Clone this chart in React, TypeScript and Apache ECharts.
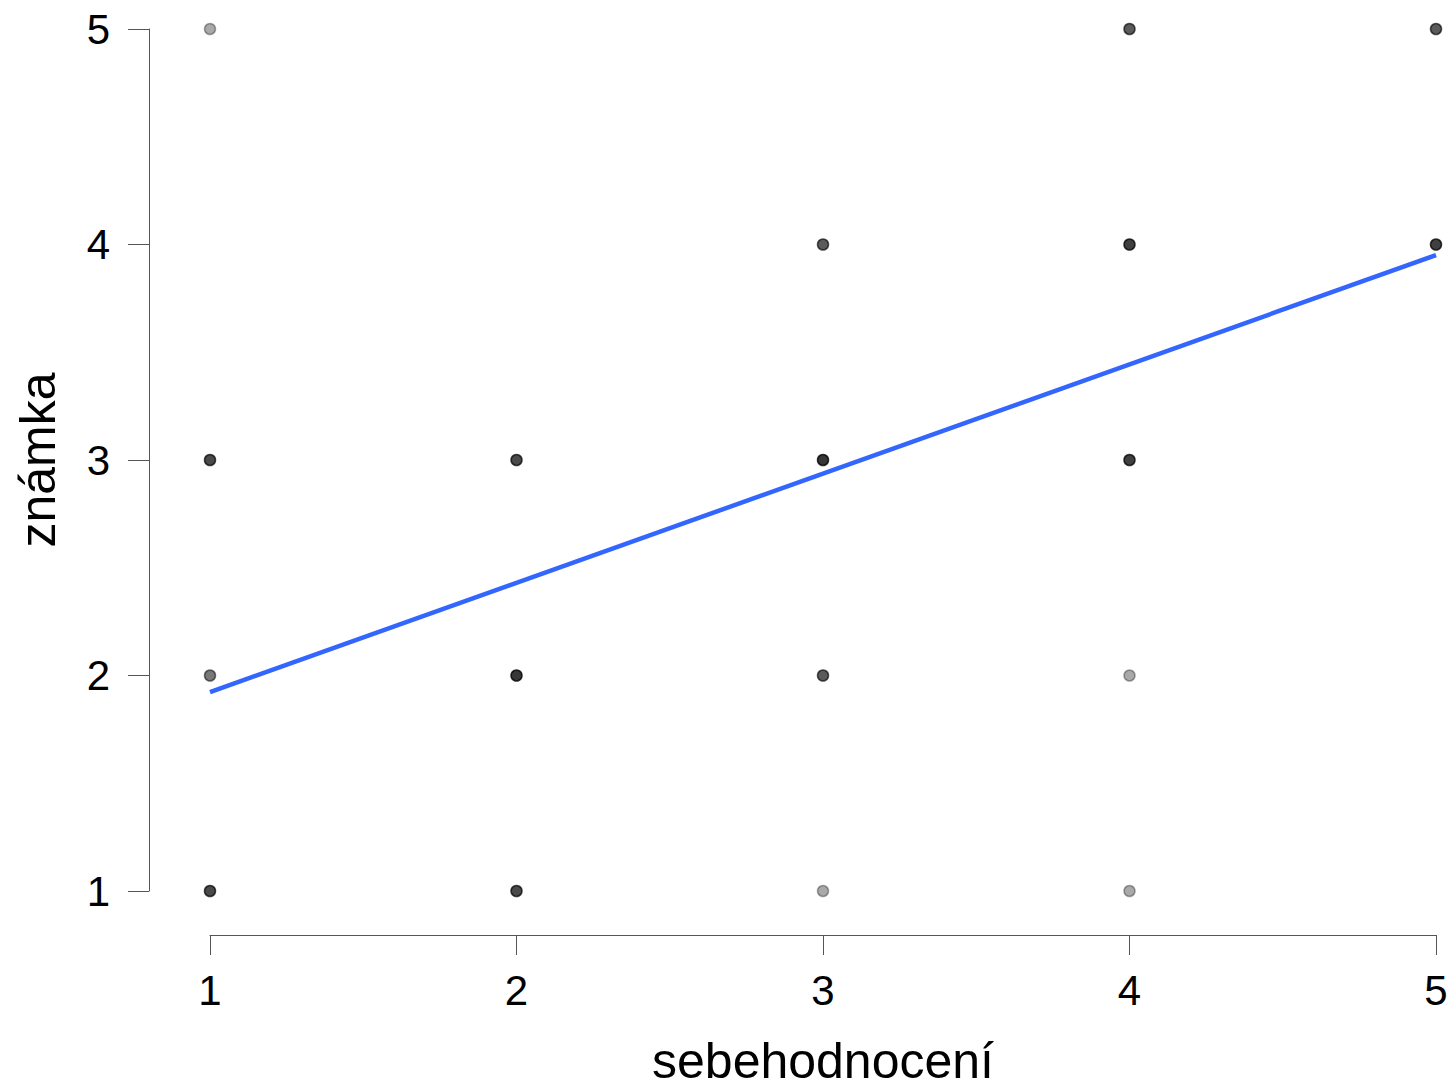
import React, { useEffect, useRef } from "react";
import * as echarts from "echarts";

// self-rating (x), grade (y), and how many students share each point
const selfRating = [1, 1, 1, 1, 2, 2, 2, 3, 3, 3, 3, 4, 4, 4, 4, 4, 5, 5];
const grade = [5, 3, 2, 1, 3, 2, 1, 4, 3, 2, 1, 5, 4, 3, 2, 1, 5, 4];
const count = [1, 4, 2, 4, 4, 7, 4, 3, 7, 3, 1, 3, 5, 5, 1, 1, 3, 5];

// fitted regression line end points
const fitX = [1, 5];
const fitY = [1.923, 3.951];

const xTicks = [1, 2, 3, 4, 5];
const yTicks = [1, 2, 3, 4, 5];

const FONT = "'Liberation Sans', Arial, Helvetica, sans-serif";

export default function App() {
  const ref = useRef<HTMLDivElement>(null);
  useEffect(() => {
    if (!ref.current) return;
    const chart = echarts.init(ref.current, undefined, { renderer: "svg" });
    const alpha = 0.42;
    const points = selfRating.map((x, i) => {
      const a = 1 - Math.pow(1 - alpha, count[i]);
      const c = `rgba(0,0,0,${a.toFixed(3)})`;
      return {
        value: [x, grade[i]],
        itemStyle: { color: c, borderColor: c, borderWidth: 1.5 },
      };
    });
    chart.setOption({
      animation: false,
      backgroundColor: "#ffffff",
      grid: { left: 210, right: 17, top: 29, bottom: 197, outerBoundsMode: "none", containLabel: false },
      xAxis: {
        type: "value",
        min: xTicks[0],
        max: xTicks[xTicks.length - 1],
        interval: 1,
        offset: 44,
        name: "sebehodnocení",
        nameLocation: "middle",
        nameGap: 100,
        nameTextStyle: { fontSize: 50, lineHeight: 52, color: "#000", fontFamily: FONT },
        axisLine: { show: true, lineStyle: { color: "#555", width: 1 } },
        axisTick: { show: true, length: 20, lineStyle: { color: "#555", width: 1 } },
        axisLabel: { fontSize: 42, color: "#000", fontFamily: FONT, margin: 34 },
        splitLine: { show: false },
      },
      yAxis: {
        type: "value",
        min: yTicks[0],
        max: yTicks[yTicks.length - 1],
        interval: 1,
        offset: 61,
        name: "známka",
        nameLocation: "middle",
        nameGap: 86,
        nameTextStyle: { fontSize: 50, color: "#000", fontFamily: FONT },
        axisLine: { show: true, lineStyle: { color: "#555", width: 1 } },
        axisTick: { show: true, length: 21, lineStyle: { color: "#555", width: 1 } },
        axisLabel: { fontSize: 42, color: "#000", fontFamily: FONT, margin: 39 },
        splitLine: { show: false },
      },
      series: [
        {
          type: "line",
          data: fitX.map((x, i) => [x, fitY[i]]),
          showSymbol: false,
          symbol: "none",
          lineStyle: { color: "#3366FF", width: 4.5 },
          clip: false,
          z: 2,
        },
        {
          type: "scatter",
          data: points,
          symbol: "circle",
          symbolSize: 11,
          clip: false,
          z: 3,
        },
      ],
    });
    return () => chart.dispose();
  }, []);
  return (
    <div
      ref={ref}
      style={{ position: "absolute", left: 0, top: 0, width: 1453, height: 1088 }}
    />
  );
}
